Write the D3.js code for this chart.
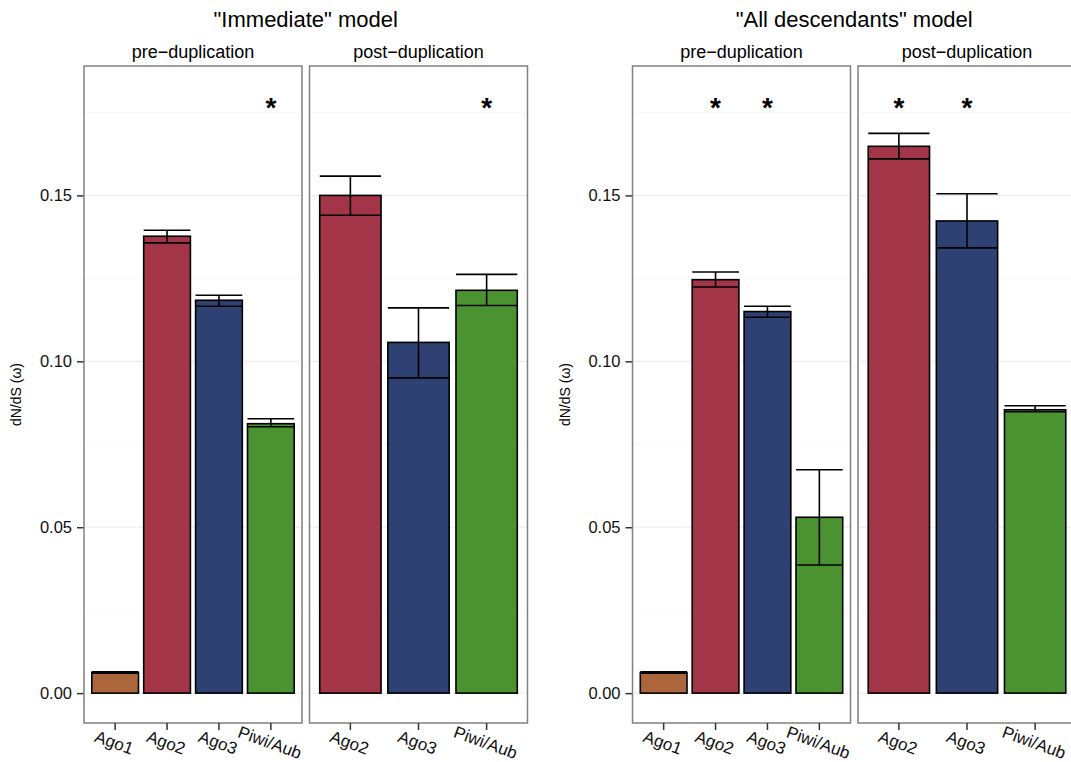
<!DOCTYPE html>
<html>
<head>
<meta charset="utf-8">
<script src="https://cdn.jsdelivr.net/npm/d3@7"></script>
<style>
  body { margin: 0; background: #fff; }
  text { font-family: "Liberation Sans", Arial, Helvetica, sans-serif; }
</style>
</head>
<body>
<svg width="1071" height="762"></svg>
<script>
// Chart data
var modelTitles = ['"Immediate" model', '"All descendants" model'];
var stageLabels = ["pre\u2212duplication", "post\u2212duplication"];
var preGenes = ["Ago1", "Ago2", "Ago3", "Piwi/Aub"];
var postGenes = ["Ago2", "Ago3", "Piwi/Aub"];

// "Immediate" model
var immPreValues = [0.0062, 0.1377, 0.1184, 0.0812];
var immPreLow    = [0.0060, 0.1357, 0.1166, 0.0803];
var immPreHigh   = [0.0064, 0.1395, 0.1199, 0.0827];
var immPostValues = [0.1500, 0.1057, 0.1214];
var immPostLow    = [0.1440, 0.0950, 0.1168];
var immPostHigh   = [0.1558, 0.1161, 0.1262];
var immPreStars  = ["Piwi/Aub"];
var immPostStars = ["Piwi/Aub"];

// "All descendants" model
var allPreValues = [0.0062, 0.1246, 0.1150, 0.0530];
var allPreLow    = [0.0060, 0.1224, 0.1133, 0.0386];
var allPreHigh   = [0.0064, 0.1269, 0.1166, 0.0673];
var allPostValues = [0.1648, 0.1423, 0.0854];
var allPostLow    = [0.1610, 0.1342, 0.0848];
var allPostHigh   = [0.1687, 0.1505, 0.0866];
var allPreStars  = ["Ago2", "Ago3"];
var allPostStars = ["Ago2", "Ago3"];

var yTicks = [0.00, 0.05, 0.10, 0.15];
var yMinor = [0.025, 0.075, 0.125, 0.175];
var starLevel = 0.175;

var geneColors = {
  "Ago1": "#ab673b",
  "Ago2": "#a23547",
  "Ago3": "#2f4172",
  "Piwi/Aub": "#4b9231"
};

var svg = d3.select("svg");
svg.append("rect").attr("width", 1071).attr("height", 762).attr("fill", "#fff");

var panelTop = 66, panelBottom = 723;
var panelWidth = 218, panelGap = 7.5;

var y = d3.scaleLinear().domain([-0.009, 0.189]).range([panelBottom, panelTop]);

function rows(genes, values, low, high) {
  return genes.map(function(g, i) {
    return { gene: g, value: values[i], low: low[i], high: high[i] };
  });
}

var charts = [
  { title: modelTitles[0], left: 84, panels: [
      { label: stageLabels[0], data: rows(preGenes, immPreValues, immPreLow, immPreHigh), stars: immPreStars },
      { label: stageLabels[1], data: rows(postGenes, immPostValues, immPostLow, immPostHigh), stars: immPostStars }
  ]},
  { title: modelTitles[1], left: 632.5, panels: [
      { label: stageLabels[0], data: rows(preGenes, allPreValues, allPreLow, allPreHigh), stars: allPreStars },
      { label: stageLabels[1], data: rows(postGenes, allPostValues, allPostLow, allPostHigh), stars: allPostStars }
  ]}
];

charts.forEach(function(chart) {
  var cg = svg.append("g");
  var totalW = panelWidth * 2 + panelGap;

  // title
  cg.append("text")
    .attr("x", chart.left + totalW / 2)
    .attr("y", 27)
    .attr("text-anchor", "middle")
    .attr("font-size", "22px")
    .text(chart.title);

  // y axis title
  cg.append("text")
    .attr("transform", "translate(" + (chart.left - 63) + "," + ((panelTop + panelBottom) / 2) + ") rotate(-90)")
    .attr("text-anchor", "middle")
    .attr("font-size", "14px")
    .text("dN/dS (\u03c9)");

  // y axis
  var yAxis = d3.axisLeft(y).tickValues(yTicks).tickFormat(d3.format(".2f")).tickSize(7).tickPadding(5);
  var ya = cg.append("g")
    .attr("transform", "translate(" + chart.left + ",0)")
    .call(yAxis);
  ya.select(".domain").remove();
  ya.selectAll("line").attr("stroke", "#333").attr("stroke-width", 1.5);
  ya.selectAll("text").attr("font-size", "16.5px").attr("fill", "#111")
    .style("font-family", '"Liberation Sans", Arial, sans-serif');

  chart.panels.forEach(function(p, pi) {
    var x0 = chart.left + pi * (panelWidth + panelGap);
    var pg = cg.append("g").attr("transform", "translate(" + x0 + ",0)");

    var x = d3.scaleBand()
      .domain(p.data.map(function(d) { return d.gene; }))
      .range([0, panelWidth])
      .paddingInner(0.1)
      .paddingOuter(0.15);

    // strip label
    pg.append("text")
      .attr("x", panelWidth / 2)
      .attr("y", 58)
      .attr("text-anchor", "middle")
      .attr("font-size", "18px")
      .text(p.label);

    // grid
    pg.selectAll(".minor").data(yMinor).enter().append("line")
      .attr("x1", 0).attr("x2", panelWidth)
      .attr("y1", function(d) { return y(d); }).attr("y2", function(d) { return y(d); })
      .attr("stroke", "#f7f7f7").attr("stroke-width", 1);
    pg.selectAll(".major").data(yTicks).enter().append("line")
      .attr("x1", 0).attr("x2", panelWidth)
      .attr("y1", function(d) { return y(d); }).attr("y2", function(d) { return y(d); })
      .attr("stroke", "#ebebeb").attr("stroke-width", 1);

    // bars
    pg.selectAll(".bar").data(p.data).enter().append("rect")
      .attr("x", function(d) { return x(d.gene); })
      .attr("width", x.bandwidth())
      .attr("y", function(d) { return y(d.value); })
      .attr("height", function(d) { return y(0) - y(d.value); })
      .attr("fill", function(d) { return geneColors[d.gene]; })
      .attr("stroke", "#000").attr("stroke-width", 1.6);

    // error bars
    var eb = pg.selectAll(".err").data(p.data).enter().append("g")
      .attr("stroke", "#000").attr("stroke-width", 1.6);
    eb.append("line")
      .attr("x1", function(d) { return x(d.gene) + x.bandwidth() / 2; })
      .attr("x2", function(d) { return x(d.gene) + x.bandwidth() / 2; })
      .attr("y1", function(d) { return y(d.low); })
      .attr("y2", function(d) { return y(d.high); });
    eb.append("line")
      .attr("x1", function(d) { return x(d.gene); })
      .attr("x2", function(d) { return x(d.gene) + x.bandwidth(); })
      .attr("y1", function(d) { return y(d.low); })
      .attr("y2", function(d) { return y(d.low); });
    eb.append("line")
      .attr("x1", function(d) { return x(d.gene); })
      .attr("x2", function(d) { return x(d.gene) + x.bandwidth(); })
      .attr("y1", function(d) { return y(d.high); })
      .attr("y2", function(d) { return y(d.high); });

    // significance stars
    pg.selectAll(".star").data(p.stars).enter().append("text")
      .attr("x", function(d) { return x(d) + x.bandwidth() / 2; })
      .attr("y", y(starLevel))
      .attr("dy", "0.15em")
      .attr("text-anchor", "middle")
      .attr("font-size", "28px")
      .attr("font-weight", "bold")
      .text("*");

    // panel border
    pg.append("rect")
      .attr("x", 0).attr("y", panelTop)
      .attr("width", panelWidth).attr("height", panelBottom - panelTop)
      .attr("fill", "none").attr("stroke", "#808080").attr("stroke-width", 1.5);

    // x axis
    var xa = pg.append("g")
      .attr("transform", "translate(0," + panelBottom + ")")
      .call(d3.axisBottom(x).tickSize(7).tickPadding(4));
    xa.select(".domain").remove();
    xa.selectAll("line").attr("stroke", "#333").attr("stroke-width", 1.5);
    xa.selectAll("text")
      .attr("font-size", "17px")
      .attr("fill", "#111")
      .style("font-family", '"Liberation Sans", Arial, sans-serif')
      .attr("text-anchor", "middle")
      .attr("y", 0)
      .attr("dy", 0)
      .attr("transform", "translate(-3,25) rotate(20)");
  });
});
</script>
</body>
</html>
